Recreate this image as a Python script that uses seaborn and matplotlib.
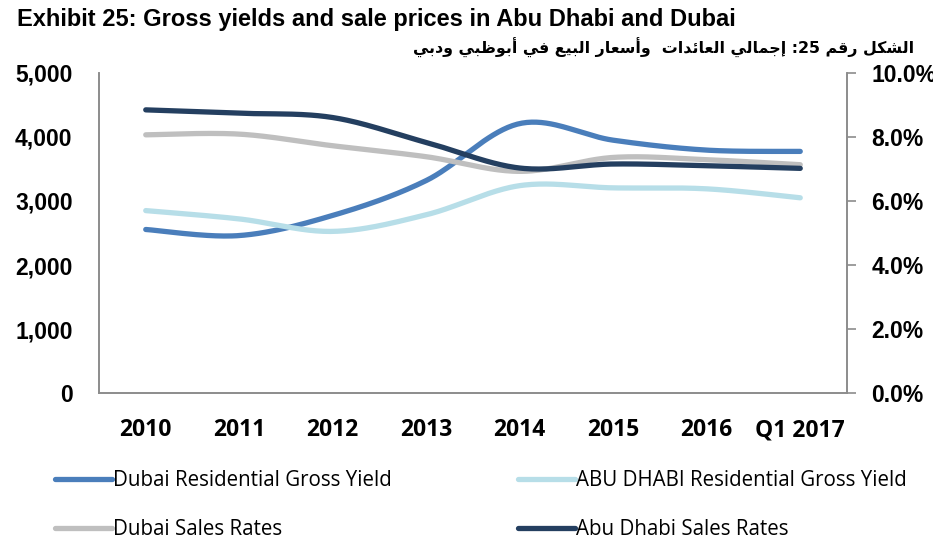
"""Exhibit 25: gross yields and sale prices in Abu Dhabi and Dubai."""

import re

import matplotlib
matplotlib.use("Agg")
import matplotlib.pyplot as plt
import numpy as np
import seaborn as sns
from matplotlib.lines import Line2D
from matplotlib.ticker import FuncFormatter, MultipleLocator, PercentFormatter

# ---- data ----
years = ["2010", "2011", "2012", "2013", "2014", "2015", "2016", "Q1 2017"]
dubai_yield = [5.11, 4.92, 5.55, 6.64, 8.42, 7.90, 7.59, 7.55]        # % (right axis)
abu_dhabi_yield = [5.70, 5.44, 5.05, 5.57, 6.48, 6.41, 6.38, 6.10]    # % (right axis)
dubai_sales = [4034, 4045, 3863, 3692, 3463, 3681, 3645, 3567]        # left axis
abu_dhabi_sales = [4424, 4372, 4304, 3915, 3515, 3578, 3551, 3510]    # left axis

labels = ["Dubai Residential Gross Yield", "ABU DHABI Residential Gross Yield",
          "Dubai Sales Rates", "Abu Dhabi Sales Rates"]
colors = ["#4A7EBB", "#B7DEE8", "#BFBFBF", "#243F60"]

TITLE = "Exhibit 25: Gross yields and sale prices in Abu Dhabi and Dubai"
TITLE_AR = "الشكل رقم 25: إجمالي العائدات  وأسعار البيع في أبوظبي ودبي"

# arabic presentation forms: (isolated, final, initial, medial)
AR_FORMS = {
    "ا": (0xFE8D, 0xFE8E, None, None), "أ": (0xFE83, 0xFE84, None, None),
    "إ": (0xFE87, 0xFE88, None, None), "د": (0xFEA9, 0xFEAA, None, None),
    "ر": (0xFEAD, 0xFEAE, None, None), "و": (0xFEED, 0xFEEE, None, None),
    "ب": (0xFE8F, 0xFE90, 0xFE91, 0xFE92), "ت": (0xFE95, 0xFE96, 0xFE97, 0xFE98),
    "ج": (0xFE9D, 0xFE9E, 0xFE9F, 0xFEA0), "س": (0xFEB1, 0xFEB2, 0xFEB3, 0xFEB4),
    "ش": (0xFEB5, 0xFEB6, 0xFEB7, 0xFEB8), "ظ": (0xFEC5, 0xFEC6, 0xFEC7, 0xFEC8),
    "ع": (0xFEC9, 0xFECA, 0xFECB, 0xFECC), "ف": (0xFED1, 0xFED2, 0xFED3, 0xFED4),
    "ق": (0xFED5, 0xFED6, 0xFED7, 0xFED8), "ك": (0xFED9, 0xFEDA, 0xFEDB, 0xFEDC),
    "ل": (0xFEDD, 0xFEDE, 0xFEDF, 0xFEE0), "م": (0xFEE1, 0xFEE2, 0xFEE3, 0xFEE4),
    "ي": (0xFEF1, 0xFEF2, 0xFEF3, 0xFEF4), "ئ": (0xFE89, 0xFE8A, 0xFE8B, 0xFE8C),
}


def shape_arabic(text):
    # matplotlib has no shaping / bidi, so do contextual forms + visual order here
    out = []
    for i, ch in enumerate(text):
        forms = AR_FORMS.get(ch)
        if forms is None:
            out.append(ch)
            continue
        prev = text[i - 1] if i > 0 else ""
        nxt = text[i + 1] if i + 1 < len(text) else ""
        jp = prev in AR_FORMS and AR_FORMS[prev][2] is not None
        jn = nxt in AR_FORMS and forms[2] is not None
        idx = 3 if (jp and jn) else 1 if jp else 2 if jn else 0
        out.append(chr(forms[idx]))
    vis = "".join(out)[::-1]
    return re.sub(r"\d+", lambda m: m.group(0)[::-1], vis)


def smooth(y, n=40):
    # excel-like smoothed line: cubic bezier, tangents from neighbours
    y = np.asarray(y, dtype=float)
    x = np.arange(len(y), dtype=float)
    pts = np.column_stack([x, y])
    xs, ys = [], []
    t = np.linspace(0, 1, n)[:, None]
    for i in range(len(pts) - 1):
        p0, p3 = pts[i], pts[i + 1]
        pm = pts[max(i - 1, 0)]
        pp = pts[min(i + 2, len(pts) - 1)]
        c1 = p0 + (p3 - pm) / 6
        c2 = p3 - (pp - p0) / 6
        seg = ((1 - t) ** 3) * p0 + 3 * ((1 - t) ** 2) * t * c1 \
            + 3 * (1 - t) * t ** 2 * c2 + t ** 3 * p3
        xs.append(seg[:, 0])
        ys.append(seg[:, 1])
    return np.concatenate(xs), np.concatenate(ys)


sns.set_theme(style="white")
plt.rcParams["font.family"] = ["Liberation Sans", "DejaVu Sans"]
plt.rcParams["text.color"] = "black"
plt.rcParams["xtick.labelcolor"] = "black"
plt.rcParams["ytick.labelcolor"] = "black"

fig = plt.figure(figsize=(9.33, 5.41), dpi=100)
ax = fig.add_axes([99 / 933, 1 - 393 / 541, 748 / 933, 320 / 541])
ax2 = ax.twinx()

series = [(ax2, dubai_yield), (ax2, abu_dhabi_yield),
          (ax, dubai_sales), (ax, abu_dhabi_sales)]
for (a, vals), c in zip(series, colors):
    sx, sy = smooth(vals)
    sns.lineplot(x=sx, y=sy, ax=a, color=c, lw=3.8, sort=False,
                 estimator=None, solid_capstyle="round", legend=False)

ax.set_xlim(-0.5, len(years) - 0.5)
ax.set_ylim(0, 5000)
ax2.set_ylim(0, 10)
ax.set_xticks(range(len(years)))
ax.set_xticklabels(years)
ax.yaxis.set_major_locator(MultipleLocator(1000))
ax.yaxis.set_major_formatter(FuncFormatter(lambda v, _: f"{v:,.0f}"))
ax2.yaxis.set_major_locator(MultipleLocator(2))
ax2.yaxis.set_major_formatter(PercentFormatter(100, decimals=1))

for a in (ax, ax2):
    a.grid(False)
    a.set_facecolor("none")
    for side in a.spines:
        a.spines[side].set_color("#8C8C8C")
        a.spines[side].set_linewidth(1.2)
    a.spines["top"].set_visible(False)

ax.tick_params(axis="y", length=0, pad=19, labelsize=16.5, labelcolor="black")
ax.tick_params(axis="x", length=0, pad=18, labelcolor="black")
for lab in ax.get_yticklabels():
    lab.set_fontweight("bold")
for lab in ax.get_xticklabels():
    lab.set_fontfamily(["Open Sans", "DejaVu Sans"])
    lab.set_fontweight("bold")
    lab.set_fontsize(16.5)

ax2.tick_params(axis="y", direction="out", length=6.5, width=1.2,
                color="#8C8C8C", pad=11, labelsize=16.5, right=True,
                labelcolor="black")
for lab in ax2.get_yticklabels():
    lab.set_fontweight("bold")

ax.set_zorder(ax2.get_zorder() + 1)

# titles
fig.text(17 / 933, 1 - 26 / 541, TITLE, fontsize=17, fontweight="bold",
         va="baseline", ha="left", color="black")
fig.text(914 / 933, 1 - 48 / 541, shape_arabic(TITLE_AR), fontsize=11.4,
         fontweight="bold", va="center", ha="right", color="black",
         family=["DejaVu Sans", "Liberation Sans"])

# legend: two columns, each its own legend so the columns sit like the reference
handles = [Line2D([0], [0], color=c, lw=3.8, solid_capstyle="round") for c in colors]
legend_kw = dict(frameon=False, handlelength=2.75, handletextpad=0.05,
                 labelspacing=1.35, borderpad=0, borderaxespad=0, loc="upper left",
                 prop={"family": ["Open Sans", "DejaVu Sans"], "size": 14.8})
leg1 = fig.legend([handles[0], handles[2]], [labels[0], labels[2]],
                  bbox_to_anchor=(55 / 933, 1 - 470 / 541), **legend_kw)
leg2 = fig.legend([handles[1], handles[3]], [labels[1], labels[3]],
                  bbox_to_anchor=(518 / 933, 1 - 470 / 541), **legend_kw)

fig.savefig("out.png", dpi=100)
